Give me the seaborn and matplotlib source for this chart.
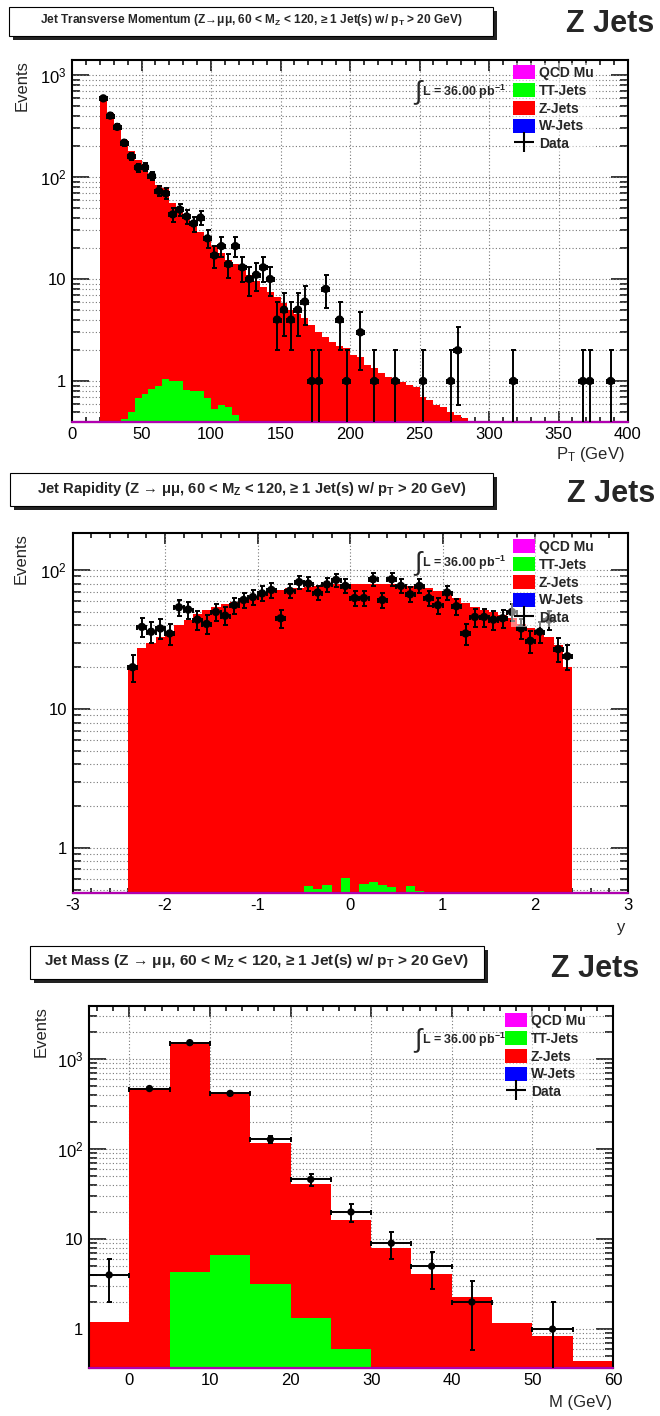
import numpy as np
import pandas as pd
import matplotlib
matplotlib.use("Agg")
import matplotlib.pyplot as plt
import seaborn as sns
from matplotlib.patches import Rectangle, Patch
from matplotlib.lines import Line2D
from matplotlib.ticker import FixedLocator, FixedFormatter, MultipleLocator, LogLocator, NullFormatter

# ---------------- data ----------------
# Panel 1 : jet transverse momentum (5 GeV bins)
pt_z_start, pt_z_width = 20, 5
pt_zjets = [620, 420, 310, 230, 180, 147, 130, 102, 84, 78, 56, 47, 40, 33, 29, 25, 21, 18,
            15.5, 14, 12.5, 11, 9.5, 8.4, 7.5, 6.7, 5.8, 5.0, 4.5, 4.1, 3.5, 3.0, 2.7, 2.4,
            2.2, 2.1, 1.8, 1.7, 1.45, 1.35, 1.2, 1.1, 1.0, 0.97, 0.92, 0.88, 0.7, 0.65, 0.58,
            0.55, 0.5, 0.46, 0.43]
pt_tt_start = 35
pt_ttjets = [0.42, 0.5, 0.68, 0.75, 0.83, 0.9, 1.04, 1.0, 1.0, 0.81, 0.79, 0.79, 0.68, 0.53,
             0.58, 0.55, 0.46]
pt_data_x = [22.5, 27.5, 32.5, 37.5, 42.5, 47.5, 52.5, 57.5, 62.5, 67.5, 72.5, 77.5, 82.5,
             87.5, 92.5, 97.5, 102.5, 107.5, 112.5, 117.5, 122.5, 127.5, 132.5, 137.5, 142.5,
             147.5, 152.5, 157.5, 162.5, 167.5, 172.5, 177.5, 182.5, 192.5, 197.5, 207.5,
             217.5, 232.5, 252.5, 272.5, 277.5, 317.5, 367.5, 372.5, 387.5]
pt_data_n = [590, 400, 310, 217, 160, 124, 125, 103, 73, 69, 43, 48, 41, 35, 40, 25, 17, 21,
             14, 21, 13, 10, 11, 13, 10, 4, 5, 4, 5, 6, 1, 1, 8, 4, 1, 3, 1, 1, 1, 1, 2, 1, 1,
             1, 1]

# Panel 2 : jet rapidity (0.1 bins from -2.4 to 2.4)
y_z_start, y_z_width = -2.4, 0.1
y_zjets = [19.6, 27.3, 30, 33, 36, 40, 43.6, 48, 51.5, 54.5, 57.5, 59, 61.8, 64.2, 68, 69.8,
           71.8, 73.8, 74.6, 75.8, 77, 78.8, 80, 80, 80, 80, 79, 79, 79, 76.5, 76.5, 73.8,
           73.8, 71, 68, 63, 58, 54.5, 52, 50, 47.4, 45, 41, 38, 36, 33, 29, 20]
y_tt_start = -0.5
y_ttjets = [0.53, 0.51, 0.54, 0.48, 0.61, 0.48, 0.55, 0.57, 0.545, 0.52, 0.48, 0.53, 0.49]
y_data_n = [20, 39, 36, 38, 35, 54, 52, 44, 41, 50, 47, 56, 61, 64, 68, 72, 45, 71, 82, 80,
            69, 79, 85, 77, 63, 63, 86, 61, 86, 77, 67, 77, 63, 56, 69, 55, 35, 46, 46, 44,
            45, 50, 38, 31, 36, 44, 27, 24]

# Panel 3 : jet mass (5 GeV bins from -5 to 60)
m_z_start, m_z_width = -5, 5
m_zjets = [1.21, 476, 1559, 416, 116, 40.5, 16.3, 8.0, 4.08, 2.25, 1.18, 0.83, 0.44]
m_tt_start = 5
m_ttjets = [4.26, 6.64, 3.16, 1.32, 0.60]
m_data_x = [-2.5, 2.5, 7.5, 12.5, 17.5, 22.5, 27.5, 32.5, 37.5, 42.5, 52.5]
m_data_n = [4, 470, 1520, 415, 128, 46, 20, 9, 5, 2, 1]

legend_labels = ["QCD Mu", "TT-Jets", "Z-Jets", "W-Jets", "Data"]
legend_colors = ["#ff00ff", "#00ff00", "#ff0000", "#0000ff"]
titles = [
    "Jet Transverse Momentum (Z\u2192\u03bc\u03bc, 60 < $\\mathbf{M_{Z}}$ < 120, \u2265 1 Jet(s) w/ $\\mathbf{p_{T}}$ > 20 GeV)",
    "Jet Rapidity (Z \u2192 \u03bc\u03bc, 60 < $\\mathbf{M_{Z}}$ < 120, \u2265 1 Jet(s) w/ $\\mathbf{p_{T}}$ > 20 GeV)",
    "Jet Mass (Z \u2192 \u03bc\u03bc, 60 < $\\mathbf{M_{Z}}$ < 120, \u2265 1 Jet(s) w/ $\\mathbf{p_{T}}$ > 20 GeV)",
]
x_labels = [r"$\mathrm{P_{T}}$ (GeV)", "y", "M (GeV)"]
lumi_text = r"L = 36.00 pb$^{\mathbf{-1}}$"
channel_text = "Z Jets"

# ---------------- style ----------------
sns.set_theme(style="white")
plt.rcParams["font.family"] = ["Liberation Sans", "DejaVu Sans"]
plt.rcParams["mathtext.fontset"] = "custom"
plt.rcParams["mathtext.rm"] = "Liberation Sans"
plt.rcParams["mathtext.it"] = "Liberation Sans:italic"
plt.rcParams["mathtext.bf"] = "Liberation Sans:bold"
plt.rcParams["mathtext.sf"] = "Liberation Sans"
plt.rcParams["axes.unicode_minus"] = False

W, H = 660, 1416
fig = plt.figure(figsize=(W / 100, H / 100), dpi=100)
fig.patch.set_facecolor("white")
renderer = fig.canvas.get_renderer()


def fx(x):
    return x / W


def fy(y):
    return 1 - y / H


def axes_px(x0, y0, x1, y1):
    return fig.add_axes([x0 / W, 1 - y1 / H, (x1 - x0) / W, (y1 - y0) / H])


def fit_width(t, target):
    w = t.get_window_extent(renderer=renderer).width
    t.set_fontsize(t.get_fontsize() * target / w)


def title_box(x0, y0, x1, y1, text, text_w):
    sh = 4
    fig.patches.append(Rectangle((fx(x0 + sh), fy(y1 + sh)), (x1 - x0) / W, (y1 - y0) / H,
                                 transform=fig.transFigure, facecolor="#222222", edgecolor="none",
                                 zorder=1))
    fig.patches.append(Rectangle((fx(x0), fy(y1)), (x1 - x0) / W, (y1 - y0) / H,
                                 transform=fig.transFigure, facecolor="white", edgecolor="black",
                                 linewidth=0.8, zorder=2))
    t = fig.text(fx((x0 + x1) / 2), fy((y0 + y1) / 2 - 1), text, ha="center", va="center",
                 fontsize=9, fontweight="bold", zorder=3)
    fit_width(t, text_w)


def build_hist(start, width, values):
    n = len(values)
    edges = np.round(start + width * np.arange(n + 1), 4)
    centers = (edges[:-1] + edges[1:]) / 2
    return edges, centers


def hist_layer(ax, start, width, values, color, z):
    edges, centers = build_hist(start, width, values)
    df = pd.DataFrame({"center": centers, "count": values})
    sns.histplot(data=df, x="center", weights="count", bins=[float(e) for e in edges],
                 element="step", fill=True, color=color, alpha=1, linewidth=0, ax=ax,
                 zorder=z)


def panel(ax, z_start, z_width, zjets, tt_start, ttjets, dx, dn, xerr, xlim, ylim,
          xmaj, xmin_, yticks, yticklabels, xlabel, xlab_coords, ylab_x, ms, leg_xy, lumi_xy):
    hist_layer(ax, z_start, z_width, zjets, "#ff0000", 2)
    hist_layer(ax, tt_start, z_width, ttjets, "#00ff00", 3)
    ax.set_yscale("log")
    ax.set_xlim(*xlim)
    ax.set_ylim(*ylim)

    # grid (dotted), below the histograms
    gvals = [k * 10.0 ** e for e in range(-1, 5) for k in range(1, 10)]
    for v in gvals:
        if ylim[0] < v < ylim[1]:
            ax.axhline(v, color="#777777", lw=0.8, ls=(0, (1, 2)), zorder=1)
    xt = np.arange(np.ceil(xlim[0] / xmaj) * xmaj, xlim[1] + 1e-9, xmaj)
    for v in xt:
        if xlim[0] < v < xlim[1]:
            ax.axvline(v, color="#777777", lw=0.8, ls=(0, (1, 2)), zorder=1)

    # QCD (empty) histogram line along the bottom
    ax.axhline(ylim[0], color="#b000b0", lw=1.6, zorder=4, clip_on=False)

    dn = np.asarray(dn, dtype=float)
    ax.errorbar(dx, dn, yerr=np.sqrt(dn), xerr=xerr, fmt="none", ecolor="black",
                elinewidth=1.4, capsize=1.8, capthick=1.4, zorder=5)
    sns.scatterplot(x=dx, y=dn, color="black", s=ms, edgecolor="none", ax=ax, zorder=6,
                    legend=False)

    # axes style
    ax.set_facecolor("white")
    for s in ax.spines.values():
        s.set_color("black")
        s.set_linewidth(1.5)
        s.set_visible(True)
    ax.xaxis.set_major_locator(MultipleLocator(xmaj))
    ax.xaxis.set_minor_locator(MultipleLocator(xmin_))
    ax.yaxis.set_major_locator(FixedLocator(yticks))
    ax.yaxis.set_major_formatter(FixedFormatter(yticklabels))
    ax.yaxis.set_minor_locator(LogLocator(base=10, subs=np.arange(2, 10)))
    ax.yaxis.set_minor_formatter(NullFormatter())
    ax.tick_params(axis="both", which="both", direction="in", top=True, right=True,
                   bottom=True, left=True, colors="black", labelsize=12)
    ax.tick_params(axis="y", which="major", length=12, width=1.1, pad=4)
    ax.tick_params(axis="y", which="minor", length=6, width=1.1)
    ax.tick_params(axis="x", which="major", length=7.7, width=1.1, pad=3.5)
    ax.tick_params(axis="x", which="minor", length=3.6, width=1.1)
    ax.set_xlim(*xlim)
    ax.set_ylim(*ylim)

    ax.set_xlabel(xlabel, loc="right", fontsize=12, va="center")
    ax.xaxis.set_label_coords(*xlab_coords)
    ax.set_ylabel("Events", loc="top", fontsize=12)
    ax.yaxis.set_label_coords(ylab_x, 1.0)

    handles = [Patch(facecolor=c, edgecolor="none") for c in legend_colors]
    handles.append(Line2D([], [], color="black", marker="+", ms=14, mew=1.5, ls="none"))
    leg = ax.legend(handles, legend_labels, loc="upper left",
                    bbox_to_anchor=(fx(leg_xy[0]), fy(leg_xy[1])), bbox_transform=fig.transFigure,
                    prop={"weight": "bold", "size": 10}, frameon=True, facecolor="white",
                    framealpha=0.5, edgecolor="none", fancybox=False, borderpad=0.15,
                    handlelength=1.6, handleheight=1.2, handletextpad=0.25, labelspacing=0.22,
                    borderaxespad=0)
    leg.set_zorder(7)

    fig.text(fx(lumi_xy[0]), fy(lumi_xy[1]), "\u222b", fontsize=19, ha="left", va="center",
             family=["Liberation Sans", "DejaVu Sans"])
    fig.text(fx(lumi_xy[0] + 8), fy(lumi_xy[1]), lumi_text, fontsize=9, fontweight="bold",
             ha="left", va="center")


# ---------------- panel 1 ----------------
title_box(9, 7, 493, 36, titles[0], 425)
fig.text(fx(610), fy(24), channel_text, fontsize=22, fontweight="bold", ha="center",
         va="center")
ax1 = axes_px(72, 60, 628, 422)
panel(ax1, pt_z_start, pt_z_width, pt_zjets, pt_tt_start, pt_ttjets, pt_data_x, pt_data_n,
      2.5, (0, 400), (0.396, 1403), 50, 10, [1, 10, 100, 1000],
      ["1", "10", "$10^{2}$", "$10^{3}$"], x_labels[0], (0.995, -0.091), -0.077, 36,
      (511, 63), (414, 92))

# ---------------- panel 2 ----------------
title_box(10, 473, 493, 506, titles[1], 430)
fig.text(fx(611), fy(494), channel_text, fontsize=22, fontweight="bold", ha="center",
         va="center")
ax2 = axes_px(72.5, 533, 627.5, 893)
y_data_x = list(np.round(y_z_start + y_z_width * (np.arange(len(y_data_n)) + 0.5), 3))
panel(ax2, y_z_start, y_z_width, y_zjets, y_tt_start, y_ttjets, y_data_x, y_data_n,
      0.05, (-3, 3), (0.474, 185), 1, 0.2, [1, 10, 100],
      ["1", "10", "$10^{2}$"], x_labels[1], (0.996, -0.097), -0.079, 36,
      (511, 537), (414, 563))

# ---------------- panel 3 ----------------
title_box(30, 946, 484, 979, titles[2], 426)
fig.text(fx(595), fy(969), channel_text, fontsize=22, fontweight="bold", ha="center",
         va="center")
ax3 = axes_px(89, 1006, 613, 1368)
panel(ax3, m_z_start, m_z_width, m_zjets, m_tt_start, m_ttjets, m_data_x, m_data_n,
      2.5, (-5, 60), (0.37, 3880), 10, 2, [1, 10, 100, 1000],
      ["1", "10", "$10^{2}$", "$10^{3}$"], x_labels[2], (0.998, -0.094), -0.078, 28,
      (503, 1011), (414, 1040))

fig.savefig("out.png", dpi=100, facecolor="white")
